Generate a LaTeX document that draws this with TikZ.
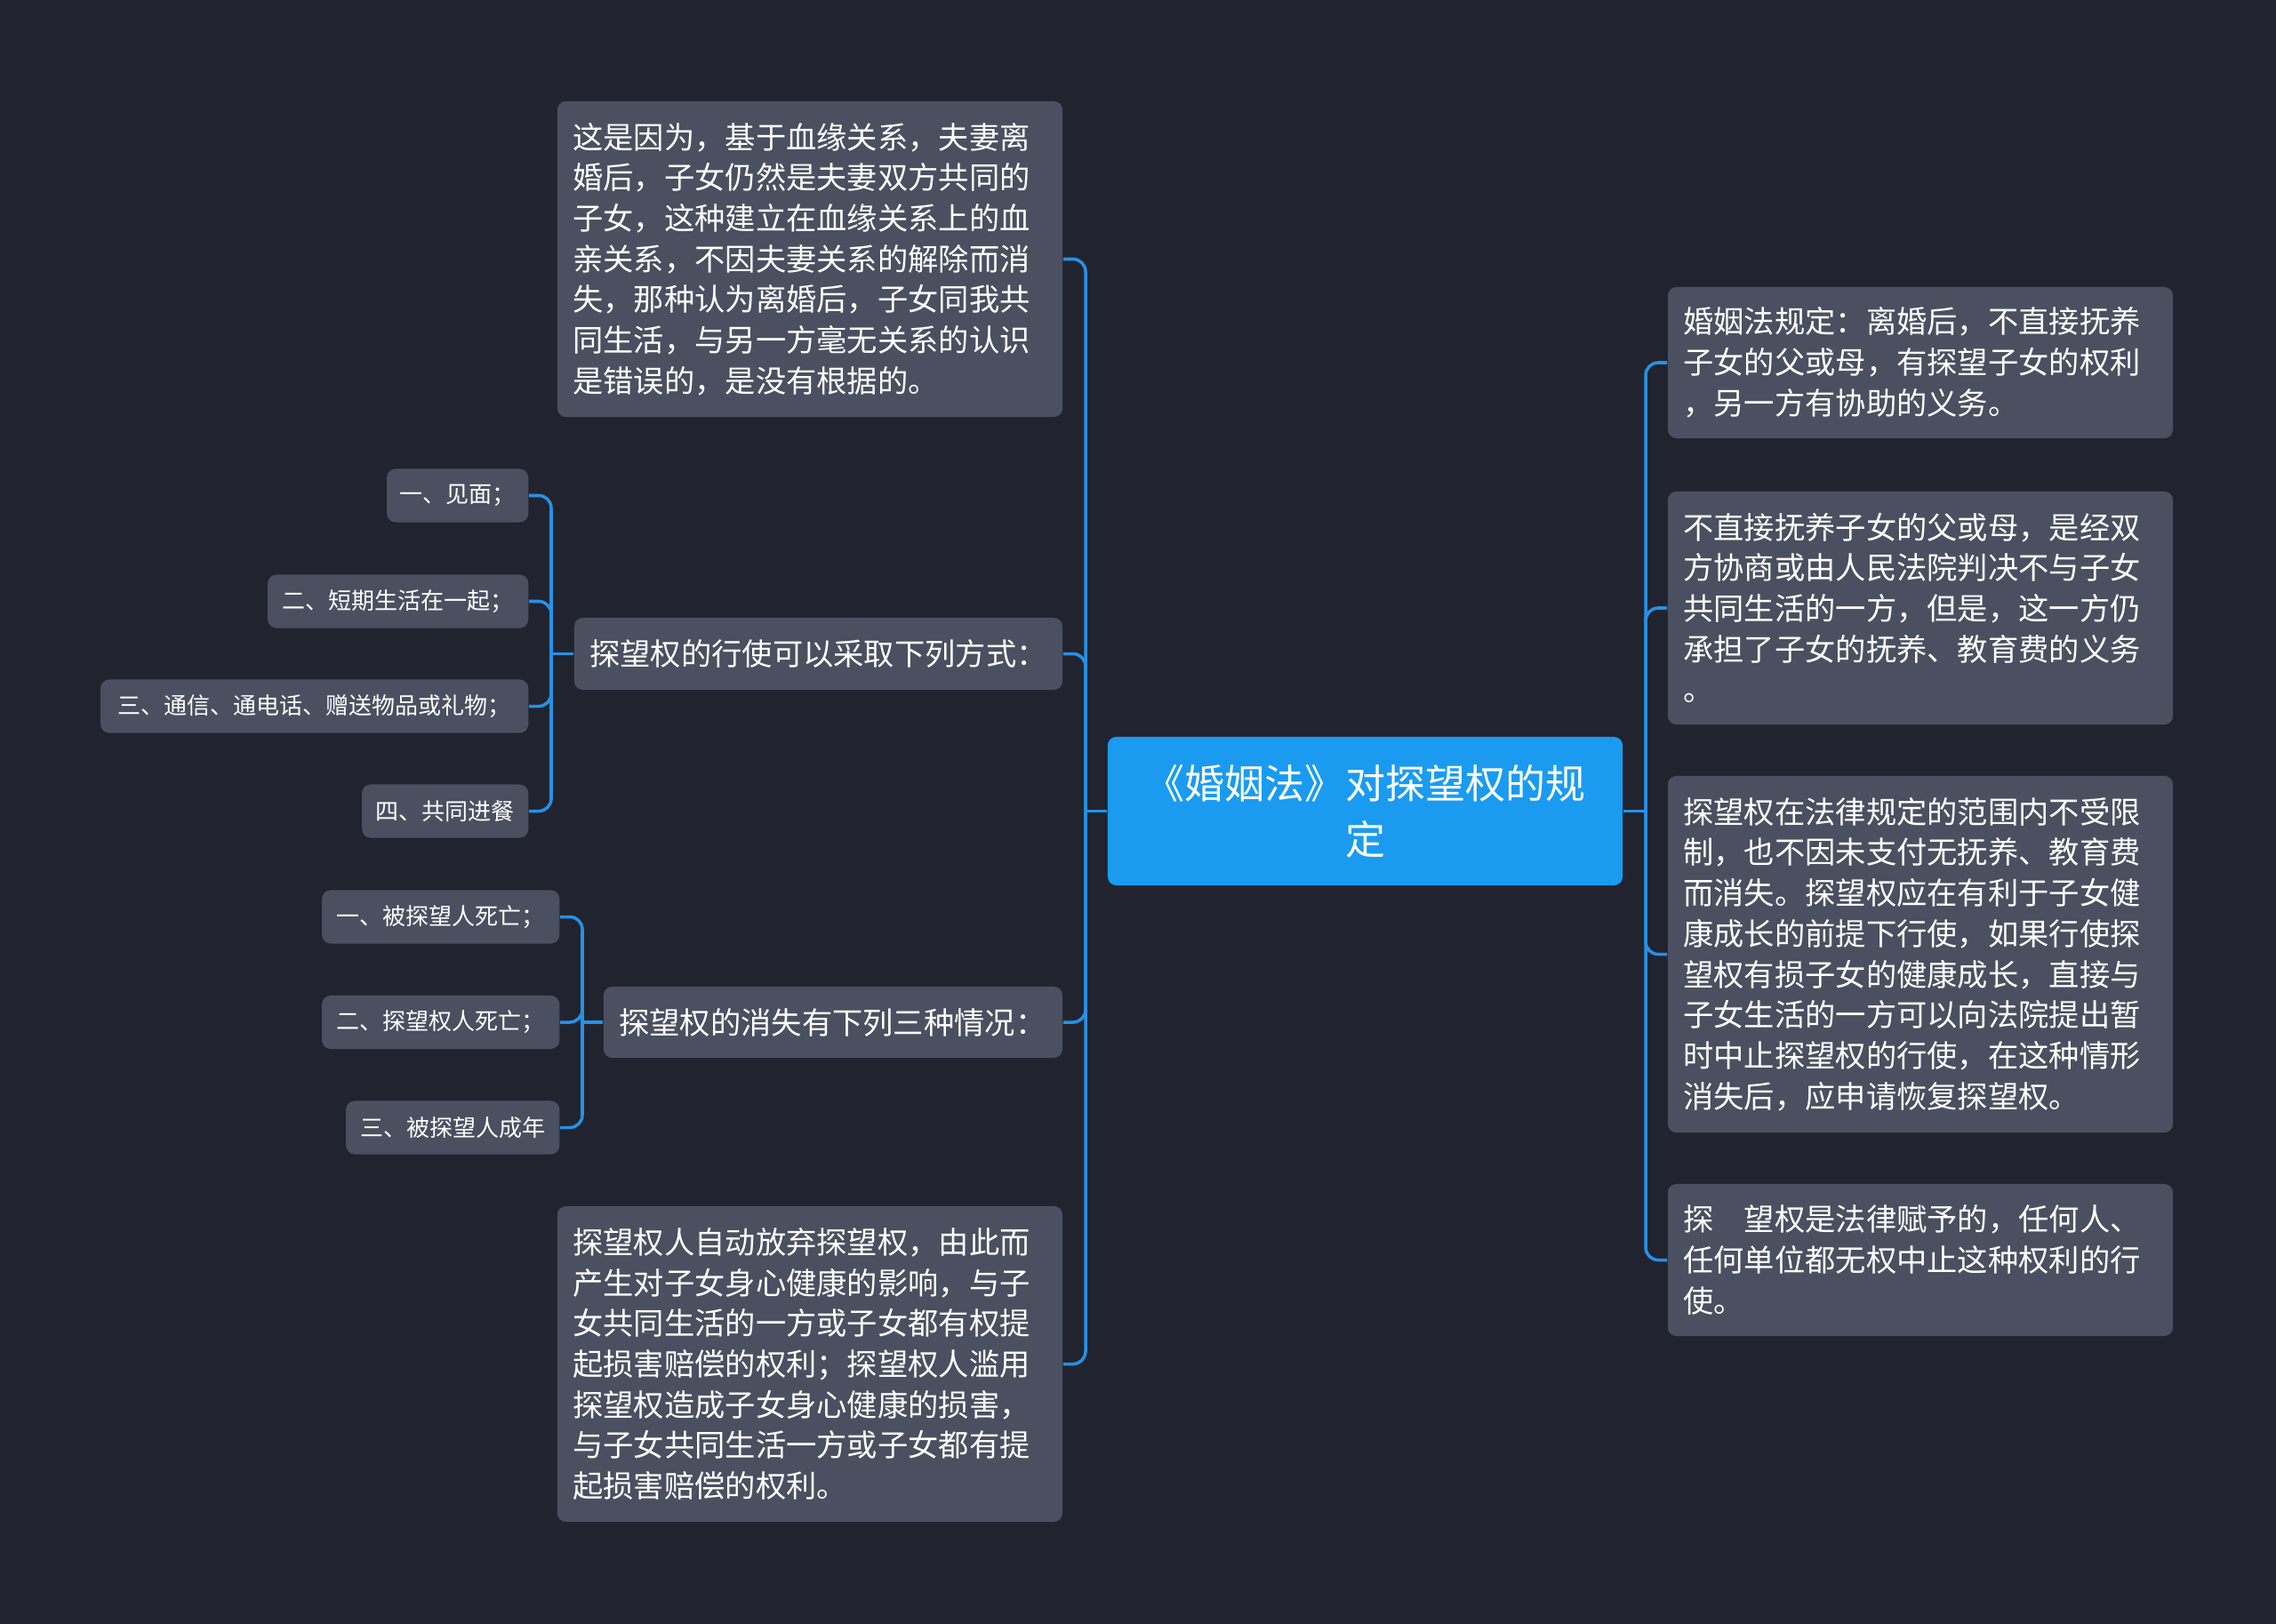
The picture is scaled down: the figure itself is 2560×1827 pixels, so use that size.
\documentclass[tikz,border=0pt]{standalone}
\usepackage{fontspec}
\setmainfont{Noto Sans CJK SC}
\usetikzlibrary{positioning,calc}
\definecolor{bgnavy}{RGB}{33,36,47}
\definecolor{boxgray}{RGB}{74,80,96}
\definecolor{rootblue}{RGB}{26,155,240}
\definecolor{linkblue}{RGB}{38,145,230}
\tikzset{
  topic/.style={fill=boxgray,text=white,rounded corners=2.8pt,inner xsep=0.175cm,inner ysep=0pt,align=left,font=\fontsize{9.75}{13}\selectfont},
  leaf/.style={fill=boxgray,text=white,rounded corners=2.8pt,inner xsep=0pt,inner ysep=0pt,minimum height=0.6cm,align=center,anchor=east,font=\fontsize{7.4}{9}\selectfont},
  link/.style={draw=linkblue,line width=1pt,rounded corners=4pt}
}

\begin{document}
\begin{tikzpicture}[x=0.01cm,y=-0.01cm]
  \fill[bgnavy](0,0)rectangle(2560,1827);
  \useasboundingbox(0,0)rectangle(2560,1827);
  \node[fill=rootblue,text=white,rounded corners=2.8pt,inner xsep=0.175cm,text width=5.44cm,minimum height=1.67cm,align=center,font=\fontsize{12.8}{18}\selectfont](root) at(1535.5,912.5){《婚姻法》对探望权的规\\定};
  % left side
  \node[topic,text width=5.33cm,minimum height=3.55cm](fact) at(911,291.5){这是因为，基于血缘关系，夫妻离\\婚后，子女仍然是夫妻双方共同的\\子女，这种建立在血缘关系上的血\\亲关系，不因夫妻关系的解除而消\\失，那种认为离婚后，子女同我共\\同生活，与另一方毫无关系的认识\\是错误的，是没有根据的。};
  \node[topic,text width=5.14cm,minimum height=0.81cm](ways) at(920.5,735.5){探望权的行使可以采取下列方式：};
  \node[topic,text width=4.81cm,minimum height=0.80cm](ends) at(937,1150){探望权的消失有下列三种情况：};
  \node[topic,text width=5.33cm,minimum height=3.55cm](abuse) at(911,1534.5){探望权人自动放弃探望权，由此而\\产生对子女身心健康的影响，与子\\女共同生活的一方或子女都有权提\\起损害赔偿的权利；探望权人滥用\\探望权造成子女身心健康的损害，\\与子女共同生活一方或子女都有提\\起损害赔偿的权利。};
  \node[leaf,minimum width=1.59cm](w1) at(595,557.5){一、见面；};
  \node[leaf,minimum width=2.93cm](w2) at(595,676.5){二、短期生活在一起；};
  \node[leaf,minimum width=4.81cm](w3) at(595,794.5){三、通信、通电话、赠送物品或礼物；};
  \node[leaf,minimum width=1.87cm](w4) at(595,912.5){四、共同进餐};
  \node[leaf,minimum width=2.67cm](e1) at(630,1031.5){一、被探望人死亡；};
  \node[leaf,minimum width=2.67cm](e2) at(630,1150){二、探望权人死亡；};
  \node[leaf,minimum width=2.40cm](e3) at(630,1268.5){三、被探望人成年};
  % right side
  \node[topic,text width=5.33cm,minimum height=1.70cm](law) at(2160,408){婚姻法规定：离婚后，不直接抚养\\子女的父或母，有探望子女的权利\\，另一方有协助的义务。};
  \node[topic,text width=5.33cm,minimum height=2.62cm](duty) at(2160,684){不直接抚养子女的父或母，是经双\\方协商或由人民法院判决不与子女\\共同生活的一方，但是，这一方仍\\承担了子女的抚养、教育费的义务\\。};
  \node[topic,text width=5.33cm,minimum height=4.01cm](limit) at(2160,1073.5){探望权在法律规定的范围内不受限\\制，也不因未支付无抚养、教育费\\而消失。探望权应在有利于子女健\\康成长的前提下行使，如果行使探\\望权有损子女的健康成长，直接与\\子女生活的一方可以向法院提出暂\\时中止探望权的行使，在这种情形\\消失后，应申请恢复探望权。};
  \node[topic,text width=5.33cm,minimum height=1.71cm](grant) at(2160,1417.5){探　望权是法律赋予的，任何人、\\任何单位都无权中止这种权利的行\\使。};
  \coordinate(jl) at(1221,912.5);
  \coordinate(jr) at(1851,912.5);
  \coordinate(jways) at(620,735.5);
  \coordinate(jends) at(655,1150);
  \draw[link](root.west)--(jl);
  \foreach \n in {fact,ways,ends,abuse}\draw[link](\n.east)-|(jl);
  \draw[link](root.east)--(jr);
  \foreach \n in {law,duty,limit,grant}\draw[link](\n.west)-|(jr);
  \draw[link](ways.west)--(jways);
  \foreach \n in {w1,w2,w3,w4}\draw[link](\n.east)-|(jways);
  \draw[link](ends.west)--(jends);
  \foreach \n in {e1,e2,e3}\draw[link](\n.east)-|(jends);
\end{tikzpicture}
\end{document}
